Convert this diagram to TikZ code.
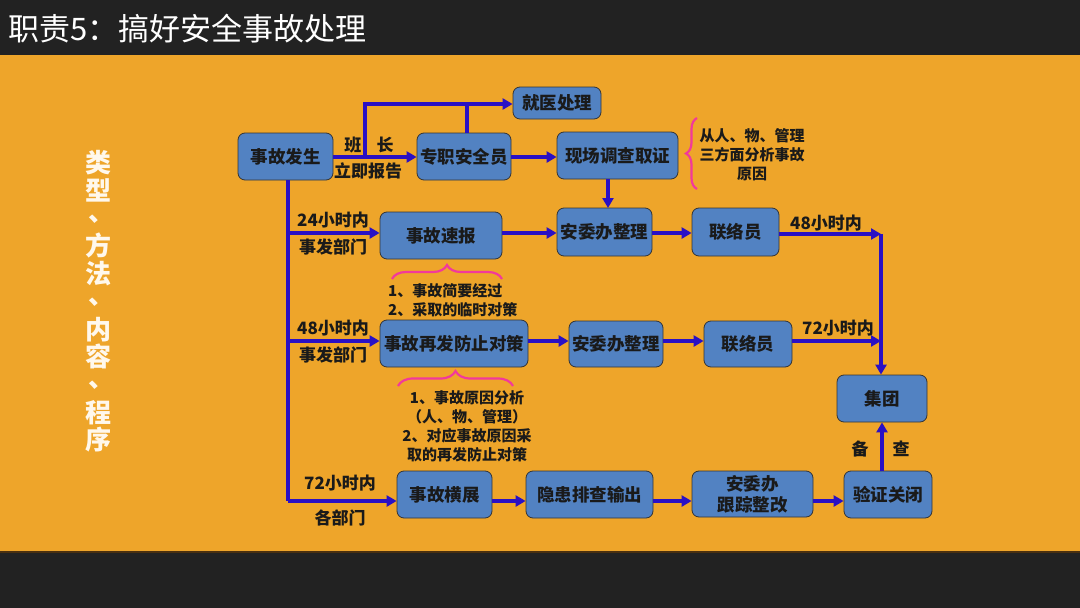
\documentclass[tikz,border=0pt]{standalone}
\usepackage{fontspec}
\setmainfont{Noto Sans CJK SC}
\usetikzlibrary{arrows.meta,decorations.pathreplacing}
\definecolor{bgorange}{HTML}{EEA52A}
\definecolor{bardark}{HTML}{222222}
\definecolor{boxfill}{HTML}{5282C2}
\definecolor{boxedge}{HTML}{353535}
\definecolor{linecol}{HTML}{2A10C4}
\definecolor{bracecol}{HTML}{F2399B}
\definecolor{txt}{HTML}{1A1A1A}
\definecolor{seam}{HTML}{4A3010}
\definecolor{sidetxt}{HTML}{FFF8EC}
\newcommand{\sidecomma}{\hspace*{6pt}\raisebox{7pt}[0pt][0pt]{、}}
\begin{document}
\begin{tikzpicture}[x=1pt,y=-1pt,
  box/.style={draw=boxedge, fill=boxfill, rounded corners=7pt, line width=0.8pt,
    font=\bfseries\fontsize{17.5}{20}\selectfont, text=txt, inner sep=0pt, align=center},
  conn/.style={draw=linecol, line width=3.2pt, -{Triangle[length=10pt,width=11pt]}},
  plain/.style={draw=linecol, line width=3.2pt},
  lbl/.style={font=\bfseries\fontsize{17}{19}\selectfont, text=txt, inner sep=0pt},
  note/.style={font=\bfseries\fontsize{15}{19}\selectfont, text=txt, inner sep=0pt},
  brc/.style={draw=bracecol, line width=2.2pt, decorate},
  side/.style={text=sidetxt, inner sep=0pt, text width=32pt, align=center,
    font=\bfseries\fontsize{26}{27.7}\selectfont},
]
\useasboundingbox (0,0) rectangle (1080,608);
% background
\fill[bardark] (0,0) rectangle (1080,55);
\fill[bgorange] (0,55) rectangle (1080,552);
\fill[bardark] (0,552) rectangle (1080,608);
\draw[seam, line width=1.5pt] (0,552) -- (1080,552);

% title
\node[anchor=west, text=white, inner sep=0pt, font=\fontsize{31}{34}\selectfont] (title) at (8,29) {职责5：搞好安全事故处理};

% vertical side text
\node[side] (side) at (98,301.5) {类\\型\\\sidecomma\\方\\法\\\sidecomma\\内\\容\\\sidecomma\\程\\序};

% boxes
\node[box, minimum width=95pt, minimum height=47pt] (fs) at (285.5,156.5) {事故发生};
\node[box, minimum width=94pt, minimum height=47pt] (zz) at (464,156.5) {专职安全员};
\node[box, minimum width=88pt, minimum height=32pt] (jy) at (557,103) {就医处理};
\node[box, minimum width=121pt, minimum height=47pt] (xc) at (617.5,155.5) {现场调查取证};
\node[box, minimum width=122pt, minimum height=47pt] (sb) at (441,235.5) {事故速报};
\node[box, minimum width=95pt, minimum height=48pt] (aw1) at (604.5,232) {安委办整理};
\node[box, minimum width=87pt, minimum height=48pt] (ll1) at (735.5,232) {联络员};
\node[box, minimum width=148pt, minimum height=47pt] (zf) at (454,343.5) {事故再发防止对策};
\node[box, minimum width=94pt, minimum height=46pt] (aw2) at (616,344) {安委办整理};
\node[box, minimum width=88pt, minimum height=46pt] (ll2) at (748,344) {联络员};
\node[box, minimum width=90pt, minimum height=47pt] (jt) at (882,398.5) {集团};
\node[box, minimum width=95pt, minimum height=47pt] (hz) at (444.5,494.5) {事故横展};
\node[box, minimum width=127pt, minimum height=47pt] (yh) at (589.5,494.5) {隐患排查输出};
\node[box, minimum width=121pt, minimum height=46pt, font=\bfseries\fontsize{17.5}{21}\selectfont] (gz) at (752.5,494) {安委办\\跟踪整改};
\node[box, minimum width=88pt, minimum height=47pt] (yz) at (888,494.5) {验证关闭};

% coordinates
\coordinate (b1) at (365,157);
\coordinate (b2) at (365,104);
\coordinate (t0) at (288,180);
\coordinate (t2) at (288,233);
\coordinate (t3) at (288,341);
\coordinate (t4) at (288,501);
\coordinate (r1) at (881,234);
\coordinate (r2) at (881,341);

% connectors
\draw[conn] (fs.east |- b1) -- (zz.west |- b1);
\draw[conn] (b1) -- (b2) -- (jy.west |- b2);
\draw[plain] (zz.north -| 467,0) -- (467,104);
\draw[conn] (zz.east |- b1) -- (xc.west |- b1);
\draw[conn] (608,179) -- (608,208);
\draw[plain] (t0) -- (t4);
\draw[conn] (t4) -- (hz.west |- t4);
\draw[conn] (t2) -- (sb.west |- t2);
\draw[conn] (t3) -- (zf.west |- t3);
\draw[conn] (sb.east |- t2) -- (aw1.west |- t2);
\draw[conn] (aw1.east |- t2) -- (ll1.west |- t2);
\draw[conn] (ll1.east |- r1) -- (r1);
\draw[conn] (r1) -- (jt.north -| r1);
\draw[conn] (zf.east |- t3) -- (aw2.west |- t3);
\draw[conn] (aw2.east |- t3) -- (ll2.west |- t3);
\draw[conn] (ll2.east |- r2) -- (r2);
\draw[conn] (hz.east |- t4) -- (yh.west |- t4);
\draw[conn] (yh.east |- t4) -- (gz.west |- t4);
\draw[conn] (gz.east |- t4) -- (yz.west |- t4);
\draw[conn] (yz.north -| jt.south) -- (jt.south);

% labels
\node[lbl] (l1) at (369,145) {班\hspace{0.9em}长};
\node[lbl] (l2) at (368,171) {立即报告};
\node[lbl] (l3) at (333,220) {24小时内};
\node[lbl] (l4) at (333,247) {事发部门};
\node[lbl] (l5) at (333,328) {48小时内};
\node[lbl] (l6) at (333,355) {事发部门};
\node[lbl] (l7) at (340,483) {72小时内};
\node[lbl] (l8) at (340,518) {各部门};
\node[lbl] (l9) at (826,223) {48小时内};
\node[lbl] (l10) at (838,328) {72小时内};
\node[lbl] (l11) at (860,449) {备};
\node[lbl] (l12) at (901,449) {查};

% braces
\draw[brc, decoration={brace, amplitude=11pt}] (697,189) -- (697,118);
\node[note, align=center] (n1) at (752,155) {从人、物、管理\\三方面分析事故\\原因};
\draw[brc, decoration={brace, amplitude=14pt}] (392,279) -- (502,279);
\node[note, align=left, anchor=west] (n2) at (388,300) {1、事故简要经过\\2、采取的临时对策};
\draw[brc, decoration={brace, amplitude=15pt}] (398,386) -- (513,386);
\node[note, align=center, text width=150pt] (n3) at (467,426) {1、事故原因分析\\（人、物、管理）\\2、对应事故原因采\\取的再发防止对策};
\end{tikzpicture}
\end{document}
